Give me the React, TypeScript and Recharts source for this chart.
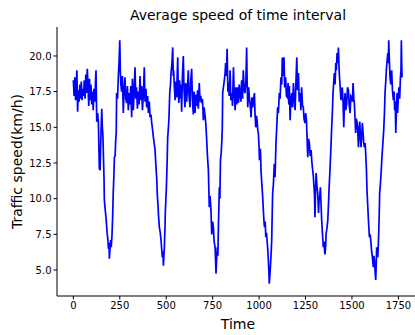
import { LineChart, Line, XAxis, YAxis, Label } from 'recharts'

// readings [time, speed km/h], estimated from the plot
const samples: [number, number][] = [
  [0, 18.3], [4, 17.2], [8, 18.5], [12, 16.9], [16, 17.8], [19, 19.0], [23, 16.1], [27, 17.6], [31, 16.8], [35, 18.0],
  [39, 17.0], [43, 18.2], [47, 16.9], [51, 17.7], [55, 17.2], [59, 18.3], [63, 17.0], [67, 18.7], [71, 17.4], [75, 19.1],
  [79, 17.9], [83, 16.5], [87, 18.4], [91, 16.9], [95, 18.0], [99, 16.6], [103, 17.5], [107, 16.2], [111, 17.7], [115, 16.8],
  [119, 18.1], [122, 19.0], [126, 15.4],
  [131, 16.0], [135, 15.3], [140, 12.1], [144, 12.0], [148, 14.2], [153, 16.3], [156, 15.0], [159, 14.5], [162, 13.0], [165, 11.5],
  [167, 9.9], [171, 9.3], [175, 8.8], [178, 8.3], [182, 7.6], [186, 7.1], [189, 6.5], [192, 6.9], [194, 5.8], [197, 6.4],
  [201, 7.1], [204, 6.6], [208, 7.4], [212, 8.9], [215, 10.5], [218, 11.5], [221, 12.9], [225, 13.0], [228, 14.1], [231, 14.6],
  [233, 17.4], [238, 17.0], [242, 18.5], [246, 19.5], [250, 21.1], [253, 18.9], [256, 18.0],
  [260, 17.5], [264, 18.6], [269, 16.0], [273, 17.6], [278, 18.5], [282, 17.0], [287, 16.7], [291, 17.9], [296, 16.2], [300, 17.4],
  [305, 16.6], [309, 17.9], [314, 15.7], [318, 18.4], [323, 16.2], [327, 17.5], [332, 19.2], [336, 17.0], [340, 17.8], [345, 16.3],
  [349, 17.5], [354, 16.6], [359, 18.6], [363, 16.9], [368, 17.9], [372, 16.2], [377, 17.3], [382, 19.2], [386, 16.8], [391, 17.7],
  [395, 16.4], [400, 17.2], [404, 16.0], [409, 16.8], [413, 15.7],
  [418, 15.9], [422, 15.3], [427, 14.8], [431, 14.3], [436, 13.8], [440, 13.4], [445, 12.2], [449, 11.4], [452, 10.3], [456, 9.5],
  [458, 8.95], [463, 8.0], [468, 7.6], [472, 7.1], [476, 6.4], [479, 5.9], [482, 6.3], [485, 5.3], [488, 6.1], [490, 6.6],
  [493, 7.8], [495, 8.95], [498, 9.9], [501, 10.8], [505, 12.6], [508, 14.3], [512, 15.0], [515, 15.7], [519, 17.4], [523, 18.0],
  [526, 18.8], [531, 19.5], [535, 20.6], [538, 18.6], [540, 19.0], [544, 17.8], [548, 16.9],
  [552, 18.2], [556, 17.1], [559, 18.6], [562, 19.9], [565, 17.4], [568, 16.7], [572, 18.3], [576, 17.0], [580, 18.0], [583, 16.1],
  [587, 18.5], [592, 20.0], [596, 17.6], [601, 16.4], [605, 18.1], [610, 16.8], [614, 17.7], [619, 19.0], [623, 17.2], [628, 16.4],
  [632, 18.2], [637, 19.1], [641, 17.0], [646, 15.9], [650, 17.5], [655, 16.0], [660, 17.3], [664, 16.5], [669, 17.6], [673, 16.3],
  [678, 18.1], [682, 16.8], [686, 17.2], [691, 16.7], [695, 17.0], [700, 15.5], [704, 16.4],
  [709, 15.8], [713, 15.3], [718, 14.1], [722, 13.0], [727, 12.0], [732, 9.4], [736, 10.2], [741, 9.2], [745, 7.5], [750, 8.4],
  [754, 8.0], [758, 7.0], [763, 6.6], [766, 5.6], [768, 4.75], [772, 5.9], [775, 6.6], [778, 6.0], [781, 8.0], [786, 10.8],
  [789, 10.0], [792, 12.7], [796, 13.2], [799, 13.9], [802, 15.0], [804, 17.4], [809, 17.9], [813, 18.3], [817, 18.8], [820, 19.5],
  [824, 18.6], [828, 20.5],
  [832, 17.5], [835, 18.1], [839, 17.2], [844, 19.0], [848, 16.9], [853, 17.4], [857, 16.5], [862, 19.2], [866, 17.5], [871, 16.2],
  [875, 17.8], [880, 16.6], [884, 17.8], [889, 16.7], [893, 18.0], [897, 17.4], [902, 16.8], [906, 18.3], [911, 17.0], [915, 19.0],
  [920, 17.6], [924, 17.4], [929, 18.2], [933, 20.6], [936, 18.0], [939, 16.4], [944, 17.8], [948, 17.0], [952, 16.6], [957, 15.7],
  [961, 17.1], [966, 16.4], [970, 17.0], [975, 17.4], [978, 16.0], [982, 15.0], [986, 15.8], [989, 15.5], [993, 14.8], [996, 14.6],
  [1000, 13.6], [1002, 12.7], [1007, 13.5], [1011, 11.8], [1015, 11.0], [1019, 10.2], [1023, 9.2], [1026, 8.5], [1029, 8.0], [1033, 8.4],
  [1036, 7.3], [1040, 7.6], [1043, 7.1], [1047, 6.4], [1050, 5.7], [1053, 4.8], [1055, 4.04], [1058, 4.6], [1060, 5.0], [1063, 5.7],
  [1066, 6.5], [1068, 7.1], [1070, 8.5], [1073, 10.35], [1077, 11.0], [1082, 12.45], [1086, 11.5], [1091, 13.9], [1095, 15.0], [1100, 16.4],
  [1104, 16.0], [1109, 17.4], [1113, 17.0], [1118, 18.5], [1122, 18.0], [1125, 19.9], [1130, 18.6], [1134, 19.9], [1138, 17.8], [1143, 18.5],
  [1147, 17.2], [1152, 17.1], [1156, 18.1], [1160, 16.6], [1163, 17.9], [1167, 15.5], [1171, 17.0], [1176, 17.4], [1180, 16.4], [1185, 18.1],
  [1189, 17.0], [1194, 16.2], [1198, 18.0], [1203, 19.9], [1207, 17.6], [1212, 18.8], [1216, 16.8], [1221, 17.4], [1225, 16.2], [1229, 17.8],
  [1234, 16.5], [1238, 16.4], [1242, 15.6], [1247, 15.3], [1251, 16.0], [1255, 15.5], [1258, 14.4], [1262, 12.9], [1266, 14.2], [1271, 13.9],
  [1275, 13.0], [1280, 13.4], [1284, 12.6], [1287, 12.2], [1292, 11.6], [1298, 10.35], [1301, 8.7], [1304, 10.5], [1307, 11.8], [1312, 10.8],
  [1316, 10.35], [1320, 9.0], [1323, 9.9], [1327, 10.2], [1330, 10.8], [1334, 9.5], [1337, 8.5], [1341, 7.6], [1346, 6.6], [1350, 7.0],
  [1353, 6.3], [1355, 6.1], [1358, 6.6], [1361, 7.55], [1365, 7.9], [1370, 8.5], [1374, 9.7], [1377, 10.8], [1381, 11.8], [1384, 12.7],
  [1388, 14.0], [1391, 15.0], [1395, 16.2], [1398, 17.4], [1402, 18.2], [1405, 18.8], [1409, 18.0], [1413, 19.5], [1416, 19.0], [1420, 20.2],
  [1424, 19.5], [1427, 20.6], [1431, 19.0], [1434, 18.3], [1438, 17.5], [1441, 16.9], [1445, 17.6], [1448, 17.8], [1452, 16.8], [1456, 15.0],
  [1459, 16.5], [1463, 17.4], [1467, 16.2], [1472, 16.7], [1476, 17.8], [1481, 17.6], [1485, 16.6], [1490, 16.0], [1494, 17.2], [1499, 17.1],
  [1503, 16.8], [1506, 18.1], [1510, 17.0], [1513, 16.7], [1517, 15.5], [1520, 14.6], [1524, 15.6], [1528, 15.3], [1531, 14.8], [1535, 13.6],
  [1539, 15.0], [1542, 15.4], [1546, 14.2], [1549, 13.6], [1553, 14.5], [1556, 15.3], [1560, 14.6], [1563, 14.0], [1567, 13.6], [1571, 13.9],
  [1574, 13.2], [1578, 12.0], [1581, 10.6], [1585, 9.5], [1588, 8.7], [1591, 8.0], [1594, 7.3], [1598, 7.5], [1603, 6.8], [1606, 6.3],
  [1610, 5.9], [1613, 5.5], [1615, 5.2], [1618, 6.0], [1621, 5.7], [1624, 5.0], [1628, 4.3], [1631, 5.5], [1633, 6.6], [1636, 6.0],
  [1639, 5.9], [1642, 6.8], [1644, 7.55], [1647, 9.0], [1649, 10.35], [1653, 11.0], [1657, 11.8], [1661, 12.8], [1664, 13.4], [1667, 14.0],
  [1671, 14.8], [1675, 16.0], [1678, 17.4], [1682, 18.2], [1685, 19.0], [1689, 19.6], [1693, 20.2], [1696, 19.5], [1698, 21.1], [1702, 19.5],
  [1705, 18.5], [1709, 18.0], [1714, 19.0], [1718, 17.6], [1723, 16.9], [1727, 17.5], [1730, 16.2], [1733, 16.8], [1736, 14.6], [1740, 16.5],
  [1743, 17.4], [1746, 16.0], [1750, 17.2], [1753, 17.8], [1757, 17.0], [1761, 18.5], [1764, 19.0], [1766, 21.1], [1768, 19.4], [1770, 18.5]
]

const xTicks = [0, 250, 500, 750, 1000, 1250, 1500, 1750]
const yTicks = [5, 7.5, 10, 12.5, 15, 17.5, 20]

const FONT = '"DejaVu Sans", sans-serif'

export default function App() {
  const data = samples.map(([time, speed]) => ({ time, speed }))

  return (
    <div
      style={{
        position: 'fixed',
        left: 0,
        top: 0,
        width: 415,
        height: 335,
        overflow: 'hidden',
        background: '#fff',
        fontFamily: FONT
      }}
    >
      <div
        style={{
          position: 'absolute',
          left: 57,
          width: 362,
          top: 7,
          textAlign: 'center',
          fontSize: 14,
          lineHeight: '16px',
          color: '#000'
        }}
      >
        Average speed of time interval
      </div>
      <LineChart width={423} height={335} data={data} margin={{ top: 27, right: 4, bottom: 0, left: 0 }}>
        <XAxis
          dataKey="time"
          type="number"
          domain={[-88, 1861]}
          allowDataOverflow
          ticks={xTicks}
          tickSize={3.5}
          tickMargin={2}
          height={39}
          stroke="#000"
          tick={{ fill: '#000', fontSize: 10, fontFamily: FONT }}
        >
          <Label value="Time" position="insideBottom" offset={6} style={{ fontSize: 14, fill: '#000', fontFamily: FONT }} />
        </XAxis>
        <XAxis xAxisId="top" orientation="top" type="number" domain={[-88, 1861]} tick={false} tickLine={false} height={0} stroke="#000" />
        <YAxis
          type="number"
          domain={[3.18, 22.03]}
          allowDataOverflow
          ticks={yTicks}
          tickFormatter={(v: number) => v.toFixed(1)}
          tickSize={3.5}
          tickMargin={2}
          width={57}
          stroke="#000"
          tick={{ fill: '#000', fontSize: 10, fontFamily: FONT }}
        >
          <Label
            value="Traffic speed(km/h)"
            angle={-90}
            position="insideLeft"
            offset={17}
            style={{ fontSize: 14, fill: '#000', fontFamily: FONT, textAnchor: 'middle' }}
          />
        </YAxis>
        <Line
          type="linear"
          dataKey="speed"
          stroke="#0000ff"
          strokeWidth={1.7}
          dot={false}
          isAnimationActive={false}
        />
      </LineChart>
    </div>
  )
}
